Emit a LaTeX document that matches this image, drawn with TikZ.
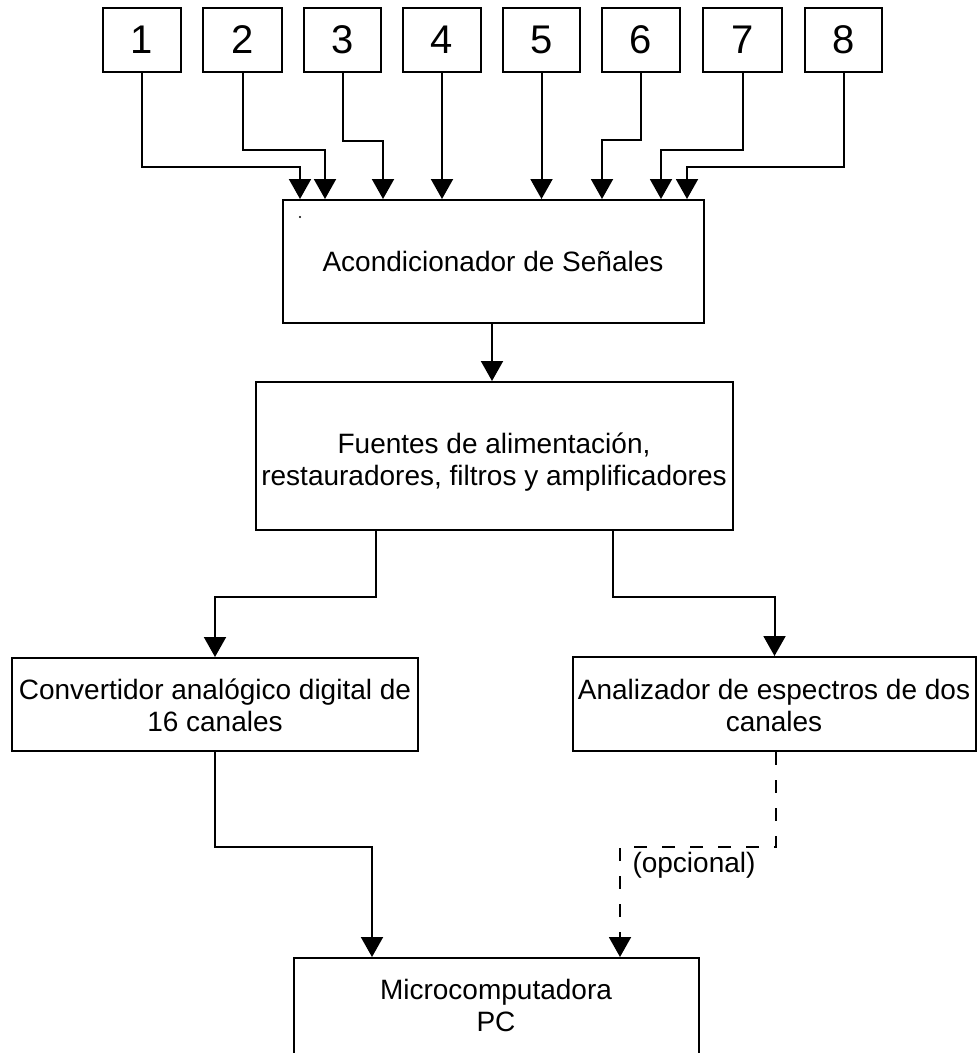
\documentclass[tikz,border=0pt]{standalone}
\usepackage{fontspec}
\setmainfont{Liberation Sans}
\usetikzlibrary{arrows.meta,fit}
\begin{document}
\begin{tikzpicture}[x=0.75pt,y=-0.75pt,
  box/.style={draw, line width=1.5pt, inner sep=0pt},
  num/.style={font=\fontsize{30}{36}\selectfont, inner sep=0pt},
  txt/.style={font=\fontsize{21}{24}\selectfont, align=center, inner sep=0pt},
  conn/.style={line width=1.5pt, -{Triangle[width=16.5pt,length=15pt]}},
  dconn/.style={conn, dash pattern=on 10pt off 11pt}]
\useasboundingbox (0,0) rectangle (978,1053);
\clip (0,0) rectangle (978,1053);

% top numbered boxes
\node[box, fit={(103,8) (181,72)}] (b1) {};
\node[box, fit={(203,8) (282,72)}] (b2) {};
\node[box, fit={(304,8) (381,72)}] (b3) {};
\node[box, fit={(403,8) (481,72)}] (b4) {};
\node[box, fit={(503,8) (580,72)}] (b5) {};
\node[box, fit={(602,8) (680,72)}] (b6) {};
\node[box, fit={(703,8) (782,72)}] (b7) {};
\node[box, fit={(805,8) (882,72)}] (b8) {};
\node[num] (n1) at (b1.center) {1};
\node[num] (n2) at (b2.center) {2};
\node[num] (n3) at (b3.center) {3};
\node[num] (n4) at (b4.center) {4};
\node[num] (n5) at (b5.center) {5};
\node[num] (n6) at (b6.center) {6};
\node[num] (n7) at (b7.center) {7};
\node[num] (n8) at (b8.center) {8};

% main boxes
\node[box, fit={(283,200) (704,323)}] (acond) {};
\node[box, fit={(256,382) (733,530)}] (fuentes) {};
\node[box, fit={(12,658) (418,751)}] (conv) {};
\node[box, fit={(573,657) (976,751)}] (anal) {};
\node[box, fit={(294,958) (699,1070)}] (micro) {};

\node[txt] (acondtext) at (493,261) {Acondicionador de Se\~nales};
\node[txt] (fuentestext) at (494,462) {Fuentes de alimentación,\\restauradores, filtros y amplificadores};
\node[txt] (convtext) at (215,705) {Convertidor analógico digital de\\16 canales};
\node[txt] (analtext) at (774,705) {Analizador de espectros de dos\\canales};
\node[txt] (microtext) at (496,1005) {Microcomputadora\\PC};

% stray dot
\fill (300,217) circle (0.9pt);

% inputs to Acondicionador
\draw[conn] (b1.south) |- (300,167) -- (300,0 |- acond.north);
\draw[conn] (b2.south) |- (325,150) -- (325,0 |- acond.north);
\draw[conn] (b3.south) |- (383,141) -- (383,0 |- acond.north);
\draw[conn] (b4.south) -- (b4.south |- acond.north);
\draw[conn] (b5.south) -- (b5.south |- acond.north);
\draw[conn] (b6.south) |- (602,140) -- (602,0 |- acond.north);
\draw[conn] (b7.south) |- (661,150) -- (661,0 |- acond.north);
\draw[conn] (b8.south) |- (687,167) -- (687,0 |- acond.north);

% chain
\draw[conn] (492,0 |- acond.south) -- (492,0 |- fuentes.north);
\draw[conn] (376,0 |- fuentes.south) -- (376,597) -| (conv.north);
\draw[conn] (613,0 |- fuentes.south) -- (613,597) -| (anal.north);
\draw[conn] (conv.south) -- (215,847) -| (372,0 |- micro.north);
\draw[dconn] (776,0 |- anal.south) -- (776,847) -| (620,0 |- micro.north);

\node[txt] (opc) at (694,865) {(opcional)};
\end{tikzpicture}
\end{document}
